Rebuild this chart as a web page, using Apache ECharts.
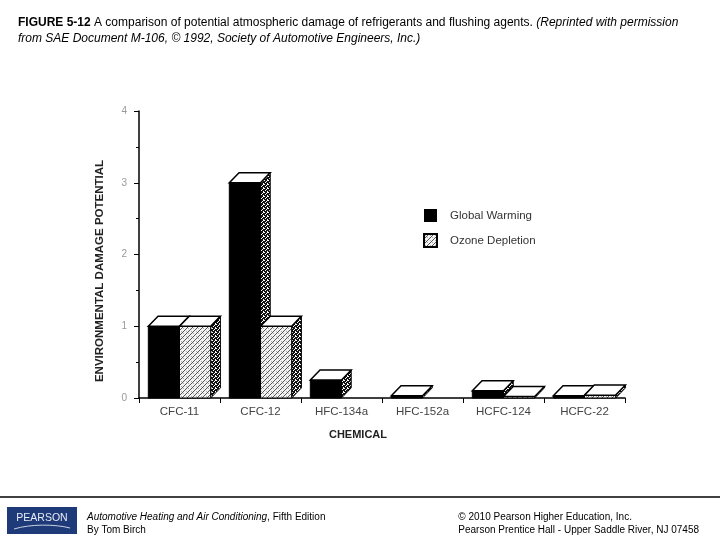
<!DOCTYPE html>
<html><head><meta charset="utf-8">
<script src="https://cdn.jsdelivr.net/npm/echarts/dist/echarts.min.js"></script>
<style>html,body{margin:0;padding:0;background:#fff}#c{width:720px;height:540px}</style>
</head><body><div id="c"></div>
<script>
const categories = ['CFC-11', 'CFC-12', 'HFC-134a', 'HFC-152a', 'HCFC-124', 'HCFC-22'];
const globalWarming = [1, 3, 0.25, 0.03, 0.1, 0.03];
const ozoneDepletion = [1, 1, 0, 0, 0.02, 0.04];
const seriesNames = ['Global Warming', 'Ozone Depletion'];
const yMin = 0, yMax = 4, yStep = 1;

function makeCanvas(w, h, draw) {
  const c = document.createElement('canvas'); c.width = w; c.height = h;
  draw(c.getContext('2d')); return c;
}
const hatch = { image: makeCanvas(5, 5, g => {
  g.fillStyle = '#f2f2f2'; g.fillRect(0, 0, 5, 5);
  g.fillStyle = '#555';
  for (let i = 0; i < 5; i++) g.fillRect(i, 4 - i, 1, 1);
  g.fillStyle = '#aaa'; g.fillRect(1, 1, 1, 1); g.fillRect(3, 3, 1, 1);
}), repeat: 'repeat' };
const stipple = { image: makeCanvas(4, 4, g => {
  g.fillStyle = '#111'; g.fillRect(0, 0, 4, 4);
  g.fillStyle = '#fff';
  [[0,0],[2,1],[1,2],[3,3],[3,0]].forEach(p => g.fillRect(p[0], p[1], 1, 1));
}), repeat: 'repeat' };

function makeRender(which, frontFill) {
  return function (params, api) {
    const i = api.value(0), v = api.value(1);
    if (!v) return null;
    const base = api.coord([i, 0]);
    const top = api.coord([i, v]);
    const band = api.size([1, 0])[0];
    const w = band * 0.385, dx = band * 0.12, dy = -band * 0.125;
    const x0 = which === 0 ? base[0] - w : base[0];
    const x1 = x0 + w, yb = base[1], yt = top[1];
    return { type: 'group', children: [
      { type: 'polygon', shape: { points: [[x1, yb], [x1 + dx, yb + dy], [x1 + dx, yt + dy], [x1, yt]] },
        style: { fill: stipple, stroke: '#000', lineWidth: 1 } },
      { type: 'rect', shape: { x: x0, y: yt, width: w, height: yb - yt },
        style: { fill: frontFill, stroke: '#000', lineWidth: 1 } },
      { type: 'polygon', shape: { points: [[x0, yt], [x0 + dx, yt + dy], [x1 + dx, yt + dy], [x1, yt]] },
        style: { fill: '#fff', stroke: '#000', lineWidth: 1.5 } }
    ]};
  };
}

const chart = echarts.init(document.getElementById('c'), null, { renderer: 'canvas' });
const ff = 'Liberation Sans, Arial, sans-serif';
chart.setOption({
  animation: false,
  backgroundColor: '#fff',
  textStyle: { fontFamily: ff },
  grid: { left: 139, right: 95, top: 111, bottom: 142, containLabel: false },
  legend: {
    orient: 'vertical', left: 423, top: 209, itemWidth: 13, itemHeight: 13, itemGap: 11,
    padding: 0, icon: 'rect',
    textStyle: { fontSize: 11.5, color: '#333', fontFamily: ff, padding: [0, 0, 0, 8] },
    data: seriesNames
  },
  xAxis: {
    type: 'category', data: categories,
    axisLine: { lineStyle: { color: '#000', width: 1.5 } },
    axisTick: { show: true, length: 5, lineStyle: { color: '#000' } },
    axisLabel: { fontSize: 11.5, color: '#444', margin: 8, fontFamily: ff }
  },
  yAxis: {
    type: 'value', min: yMin, max: yMax, interval: yStep,
    axisLine: { show: true, lineStyle: { color: '#000', width: 1.5 } },
    axisTick: { show: true, length: 5, lineStyle: { color: '#000' } },
    minorTick: { show: true, splitNumber: 2, length: 3, lineStyle: { color: '#000' } },
    splitLine: { show: false },
    axisLabel: { fontSize: 10, color: '#999', margin: 12, fontFamily: ff }
  },
  series: [
    { name: seriesNames[0], type: 'custom', renderItem: makeRender(0, '#000'),
      itemStyle: { color: '#000' },
      encode: { x: 0, y: 1 }, data: globalWarming.map((v, i) => [i, v]) },
    { name: seriesNames[1], type: 'custom', renderItem: makeRender(1, hatch),
      itemStyle: { color: hatch, borderColor: '#000', borderWidth: 0.5 },
      encode: { x: 0, y: 1 }, data: ozoneDepletion.map((v, i) => [i, v]) }
  ],
  graphic: [
    { type: 'text', left: 18, top: 15, style: {
      text: '{b|FIGURE 5-12} A comparison of potential atmospheric damage of refrigerants and flushing agents. {i|(Reprinted with permission}\n{i|from SAE Document M-106, © 1992, Society of Automotive Engineers, Inc.)}',
      font: '12px ' + ff, fill: '#000', lineHeight: 16,
      rich: { b: { fontWeight: 'bold', fontSize: 12, fontFamily: ff }, i: { fontStyle: 'italic', fontSize: 12, fontFamily: ff } }
    }},
    { type: 'text', x: 100, y: 271, rotation: Math.PI / 2, style: {
      text: 'ENVIRONMENTAL DAMAGE POTENTIAL', font: 'bold 11.5px ' + ff, fill: '#222',
      align: 'center', verticalAlign: 'middle' } },
    { type: 'text', x: 358, y: 435, style: {
      text: 'CHEMICAL', font: 'bold 11px ' + ff, fill: '#222', align: 'center', verticalAlign: 'middle' } },
    { type: 'line', shape: { x1: 0, y1: 497, x2: 720, y2: 497 }, style: { stroke: '#000', lineWidth: 1.5 } },
    { type: 'rect', shape: { x: 7, y: 507, width: 70, height: 27 }, style: { fill: '#1f3a78' } },
    { type: 'text', x: 42, y: 518, style: { text: 'PEARSON', font: '10.5px ' + ff, fill: '#e8ecf5', align: 'center', verticalAlign: 'middle' } },
    { type: 'bezierCurve', shape: { x1: 14, y1: 529, x2: 70, y2: 528, cpx1: 30, cpy1: 524, cpx2: 55, cpy2: 524 }, style: { stroke: '#c8d0e6', lineWidth: 1, fill: null } },
    { type: 'text', left: 87, top: 511, style: {
      text: '{i|Automotive Heating and Air Conditioning}, Fifth Edition\nBy Tom Birch',
      font: '10px ' + ff, fill: '#000', lineHeight: 13,
      rich: { i: { fontStyle: 'italic', fontSize: 10, fontFamily: ff } } } },
    { type: 'text', right: 21, top: 511, style: {
      text: '© 2010 Pearson Higher Education, Inc.\nPearson Prentice Hall - Upper Saddle River, NJ 07458',
      font: '10px ' + ff, fill: '#000', lineHeight: 13, align: 'right' } }
  ]
});
</script></body></html>
